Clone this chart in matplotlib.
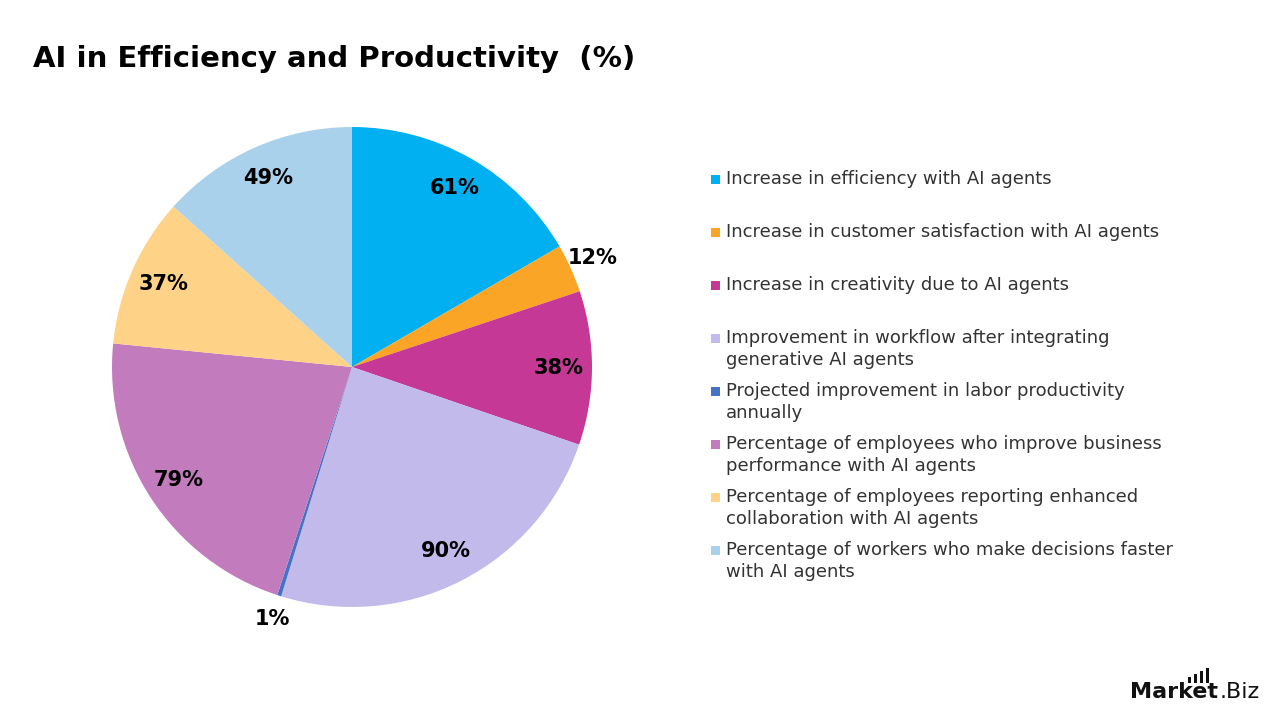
import matplotlib.pyplot as plt
from matplotlib.patches import Rectangle
import numpy as np

labels = [
    "Increase in efficiency with AI agents",
    "Increase in customer satisfaction with AI agents",
    "Increase in creativity due to AI agents",
    "Improvement in workflow after integrating\ngenerative AI agents",
    "Projected improvement in labor productivity\nannually",
    "Percentage of employees who improve business\nperformance with AI agents",
    "Percentage of employees reporting enhanced\ncollaboration with AI agents",
    "Percentage of workers who make decisions faster\nwith AI agents",
]
values = [61, 12, 38, 90, 1, 79, 37, 49]
colors = ["#00B0F0", "#FBA526", "#C53895", "#C1BAEA", "#4472C4", "#C27BBD", "#FFD387", "#AAD1EC"]

plt.rcParams["font.family"] = ["DejaVu Sans"]

fig = plt.figure(figsize=(12.8, 7.2), dpi=100)
fig.patch.set_facecolor("white")

# pie axes: center (352, 367) px, radius 240 px
ax = fig.add_axes([112 / 1280, 113 / 720, 480 / 1280, 480 / 720])
wedges, _ = ax.pie(values, colors=colors, startangle=90, counterclock=False,
                   radius=1.0, wedgeprops=dict(linewidth=0))
ax.set_xlim(-1, 1)
ax.set_ylim(-1, 1)
ax.set_aspect("equal")
ax.axis("off")

total = sum(values)
for w, v in zip(wedges, values):
    mid = np.deg2rad((w.theta1 + w.theta2) / 2)
    r = 0.86 if v / total > 0.05 else 1.10
    ax.text(r * np.cos(mid), r * np.sin(mid), f"{v}%", ha="center", va="center",
            fontsize=15, fontweight="bold", color="black")

fig.text(33 / 1280, 1 - 59 / 720, "AI in Efficiency and Productivity  (%)",
         fontsize=21, fontweight="bold", ha="left", va="center")

# legend
for i, (lab, c) in enumerate(zip(labels, colors)):
    y = 179 + 53 * i
    fig.patches.append(Rectangle((711 / 1280, 1 - (y + 5) / 720), 9 / 1280, 9 / 720,
                                 transform=fig.transFigure, facecolor=c, edgecolor="none"))
    fig.text(726 / 1280, 1 - (y - 9) / 720, lab, fontsize=13, color="#333333",
             ha="left", va="top", linespacing=1.3)

# logo
fig.text(1130 / 1280, 1 - 692 / 720, "Market", fontsize=16, fontweight="bold",
         ha="left", va="center", color="#111111")
fig.text(1220 / 1280, 1 - 692 / 720, ".Biz", fontsize=16, ha="left", va="center", color="#111111")
for k, hgt in enumerate([6, 9, 12, 15]):
    fig.patches.append(Rectangle(((1188 + k * 6) / 1280, 1 - 683 / 720), 3 / 1280, hgt / 720,
                                 transform=fig.transFigure, facecolor="#111111", edgecolor="none"))

fig.savefig("out.png", dpi=100, facecolor="white")
